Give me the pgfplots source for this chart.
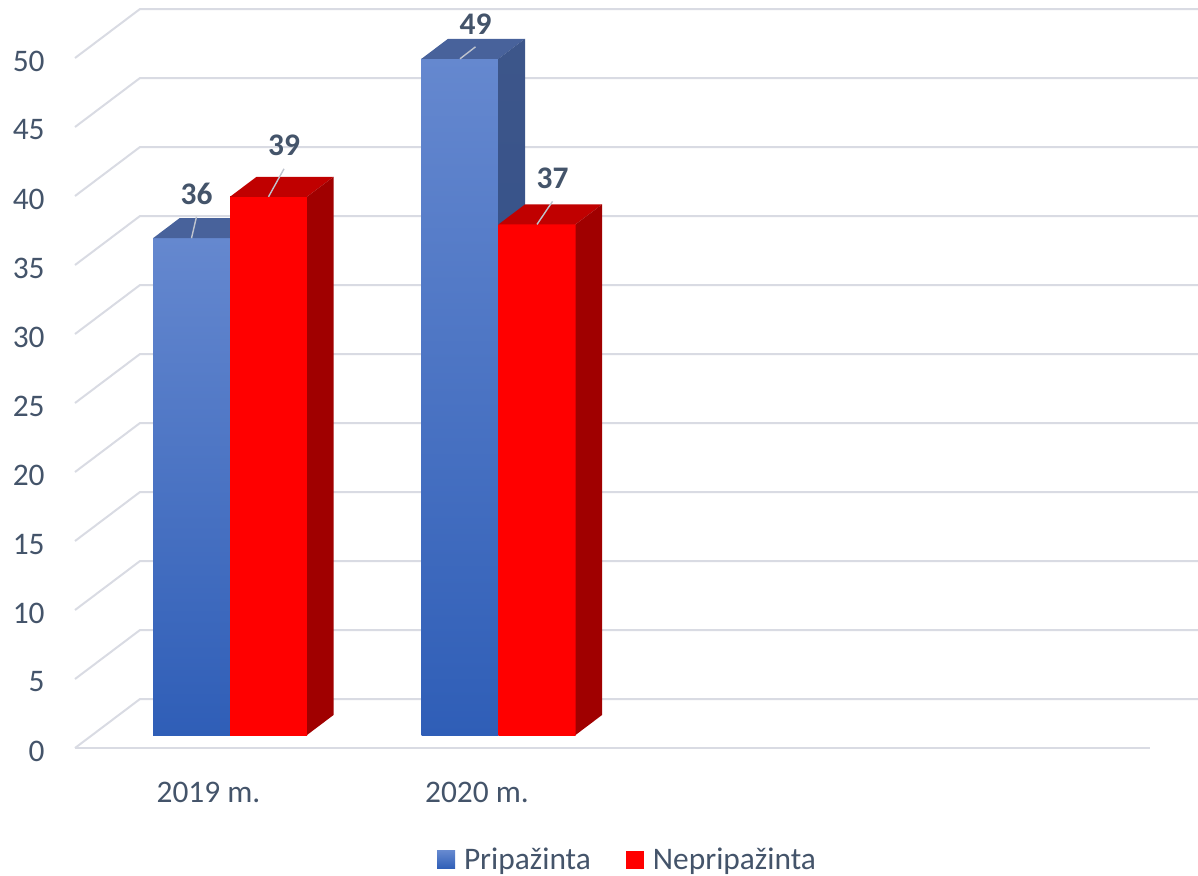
\documentclass[border=0pt]{standalone}
\usepackage{pgfplots}
\pgfplotsset{compat=1.18}
\usepackage{pgfplotstable}
\usepackage{fontspec}
\setmainfont{Carlito}

\definecolor{textc}{RGB}{68,84,106}
\definecolor{gridc}{RGB}{217,219,227}
\definecolor{bluetopc}{RGB}{101,136,207}
\definecolor{bluebotc}{RGB}{47,94,183}
\definecolor{bluecap}{RGB}{72,98,155}
\definecolor{bluesidetop}{RGB}{61,86,138}
\definecolor{bluesidebot}{RGB}{44,76,140}
\definecolor{redfront}{RGB}{255,0,0}
\definecolor{redcap}{RGB}{192,0,0}
\definecolor{redside}{RGB}{160,0,0}
\definecolor{leaderc}{RGB}{191,196,206}

\pgfdeclareplotmark{void}{}

% x = category, y = value, ldx/ldy = label offset (px, y down)
\pgfplotstableread{
x y ldx ldy
0 36 5 -44.5
1 49 15.5 -35
}\blueData
\pgfplotstableread{
x y ldx ldy
0 39 15.5 -51
1 37 15.5 -46
}\redData

\newcommand\lblfont{\fontsize{15.7}{18.8}\selectfont}

% #1 bar centre shift (pt, no unit), #2 cap, #3/#4 side top/bottom, #5/#6 front top/bottom
\pgfplotsset{
  cube3d/.style n args={6}{%
    scatter, only marks, mark=void, forget plot,
    point meta=\thisrow{y},
    visualization depends on={\thisrow{y} \as \barval},
    visualization depends on={\thisrow{ldx} \as \labdx},
    visualization depends on={\thisrow{ldy} \as \labdy},
    scatter/@pre marker code/.code={%
      \pgfmathsetmacro\barh{\barval*6.9}%
      \pgfmathsetmacro\sidey{10-\barh}%
      \pgfmathsetmacro\xa{#1-19.25}%
      \pgfmathsetmacro\xb{#1+19.25}%
      \pgfmathsetmacro\xc{#1+32.5}%
      \pgfmathsetmacro\xd{#1-6}%
      \pgfmathsetmacro\xm{#1}%
      \pgfmathsetmacro\leadx{#1+\labdx*0.5}%
      \pgfmathsetmacro\leady{-(\labdy+23)*0.5}%
      \pgfmathsetmacro\labx{#1+\labdx*0.5}%
      \pgfmathsetmacro\laby{-\labdy*0.5}%
      \shade[top color=#5, bottom color=#6, draw=none] (\xa pt,0pt) rectangle (\xb pt,-\barh pt);
      \fill[#2, draw=none] (\xa pt,0pt) -- (\xb pt,0pt) -- (\xc pt,10pt) -- (\xd pt,10pt) -- cycle;
      \shade[top color=#3, bottom color=#4, draw=none] (\xb pt,0pt) -- (\xc pt,10pt) -- (\xc pt,\sidey pt) -- (\xb pt,-\barh pt) -- cycle;
      \draw[leaderc, line width=0.7pt] (\xm pt,0pt) -- (\leadx pt,\leady pt);
      \node[anchor=center, inner sep=0pt, draw=none, font=\lblfont\bfseries, text=textc]
        at (\labx pt,\laby pt) {\pgfmathprintnumber[assume math mode=true]{\barval}};
      \scope
    },
    scatter/@post marker code/.code={\endscope},
  }
}

\begin{document}
\begin{tikzpicture}
% background walls / gridlines (pixel coordinates, 1px = 0.5pt)
\begin{scope}[x=0.5pt, y=-0.5pt, line width=1pt]
  \foreach \v in {0,5,...,50} {
    \draw[gridc] (75,{748-13.8*\v}) -- (140,{699-13.8*\v}) -- (1198,{699-13.8*\v});
  }
  \draw[gridc] (75,748) -- (1150,748);
\end{scope}

\begin{axis}[
  at={(0pt,0pt)}, anchor=north west,
  x=134.25pt, y=6.9pt,
  xmin=-0.856611, xmax=3.605214,
  ymin=-10.144928, ymax=53.260870,
  clip=false,
  axis line style={draw=none},
  major tick length=0pt,
  ytick={0,5,...,50},
  xtick={0,1}, xticklabels={2019 m., 2020 m.},
  /pgf/number format/assume math mode=true,
  tick label style={font=\lblfont, text=textc, inner sep=0pt},
  yticklabel style={anchor=east, xshift=22.5pt, yshift=-8pt},
  xticklabel style={anchor=base, xshift=-10.75pt, yshift=36.5pt},
  legend style={draw=none, fill=none, inner sep=0pt, outer sep=0pt,
    at={(rel axis cs:0.36477,0.01737)}, anchor=west,
    font=\lblfont, text=textc,
    /tikz/every odd column/.append style={column sep=4.5pt},
    /tikz/every even column/.append style={column sep=17.5pt},
    cells={anchor=west}, nodes={inner sep=0pt}},
  legend columns=2,
  legend image code/.code={\path[#1] (0pt,-4.5pt) rectangle (9pt,4.5pt);},
]
% front faces of the bars
\addplot[ybar, bar width=38.5pt, bar shift=-19.25pt, draw=none,
  top color=bluetopc, bottom color=bluebotc, forget plot]
  table[x=x,y=y]{\blueData};
\addplot[ybar, bar width=38.5pt, bar shift=19.25pt, draw=none,
  fill=redfront, forget plot]
  table[x=x,y=y]{\redData};
% 3-D bodies (front, cap, side) and data labels
\addplot[cube3d={-19.25}{bluecap}{bluesidetop}{bluesidebot}{bluetopc}{bluebotc}]
  table[x=x,y=y]{\blueData};
\addplot[cube3d={19.25}{redcap}{redside}{redside}{redfront}{redfront}]
  table[x=x,y=y]{\redData};

\addlegendimage{draw=none, top color=bluetopc, bottom color=bluebotc}
\addlegendentry{Pripažinta}
\addlegendimage{draw=none, fill=redfront}
\addlegendentry{Nepripažinta}
\end{axis}
\pgfresetboundingbox
\useasboundingbox (0pt,0pt) rectangle (599pt,-437.5pt);
\end{tikzpicture}
\end{document}
